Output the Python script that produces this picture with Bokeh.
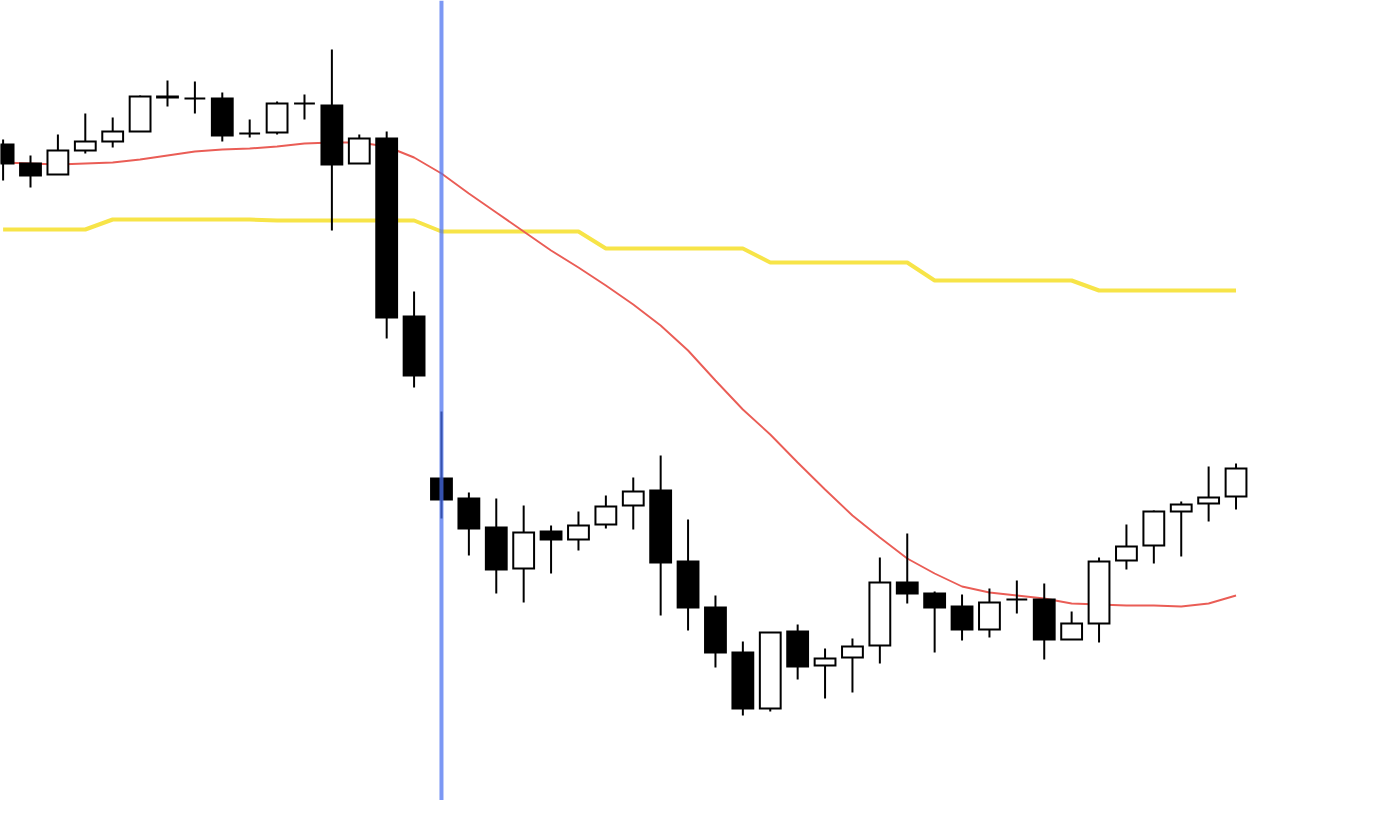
from bokeh.plotting import figure
from bokeh.models import Range1d, Span, ColumnDataSource
from bokeh.embed import file_html
from bokeh.resources import INLINE

# Price values (arbitrary price units)
opens  = [672, 653, 642, 666, 675, 685, 719, 718, 718, 683, 684, 713, 711, 653, 678, 500,
          338, 318, 289, 248, 285, 277, 292, 311, 326, 255, 209, 164, 108, 185, 151, 159,
          171, 234, 223, 210, 187, 217, 217, 177, 193, 256, 271, 305, 313, 320]
highs  = [677, 661, 682, 703, 699, 721, 736, 735, 724, 697, 715, 722, 767, 682, 685, 525,
          405, 324, 318, 311, 291, 305, 321, 339, 361, 297, 221, 175, 184, 192, 168, 178,
          259, 283, 225, 222, 228, 236, 233, 205, 259, 292, 306, 315, 350, 353]
lows   = [636, 629, 642, 663, 669, 685, 710, 703, 675, 679, 682, 697, 586, 653, 478, 429,
          298, 261, 223, 214, 243, 266, 288, 287, 201, 186, 149, 101, 105, 137, 118, 124,
          153, 213, 164, 176, 179, 203, 157, 177, 174, 247, 253, 260, 295, 307]
closes = [653, 641, 666, 675, 685, 720, 720, 718, 681, 683, 713, 713, 652, 678, 499, 441,
          317, 288, 247, 284, 277, 291, 310, 325, 254, 209, 164, 108, 184, 150, 158, 170,
          234, 223, 209, 187, 214, 217, 177, 193, 255, 270, 305, 312, 319, 348]

ma_fast = [654, 653, 652, 653, 654, 657, 661, 665, 667, 668, 670, 673, 674, 674, 670, 659,
           643, 623, 604, 585, 566, 549, 531, 512, 491, 466, 436, 407, 382, 354, 327, 301,
           279, 258, 243, 230, 224, 221, 218, 213, 212, 211, 211, 210, 213, 221]
ma_slow = [587, 587, 587, 587, 597, 597, 597, 597, 597, 597, 596, 596, 596, 596, 596, 596,
           585, 585, 585, 585, 585, 585, 568, 568, 568, 568, 568, 568, 554, 554, 554, 554,
           554, 554, 536, 536, 536, 536, 536, 536, 526, 526, 526, 526, 526, 526]
marker_index = 16

idx = list(range(len(opens)))
tops = [max(o, c) for o, c in zip(opens, closes)]
bots = [min(o, c) for o, c in zip(opens, closes)]
fills = ["black" if c < o else "white" for o, c in zip(opens, closes)]

src = ColumnDataSource(dict(x=idx, o=opens, h=highs, l=lows, c=closes,
                            top=tops, bottom=bots, fill=fills))

p = figure(width=1378, height=800, output_backend="svg", toolbar_location=None,
           x_range=Range1d(-0.095, 50.2), y_range=Range1d(16, 816),
           min_border=0, min_border_left=0, min_border_right=0,
           min_border_top=0, min_border_bottom=0)
p.xaxis.visible = False
p.yaxis.visible = False
p.grid.visible = False
p.outline_line_color = None
p.background_fill_color = "white"
p.border_fill_color = "white"

p.line(idx, ma_slow, line_color="#f7e448", line_width=4)
p.line(idx, ma_fast, line_color="#ea5d56", line_width=1.9)

p.segment(x0="x", y0="h", x1="x", y1="l", source=src, line_color="black", line_width=2)
p.vbar(x="x", top="top", bottom="bottom", width=0.76, source=src,
       fill_color="fill", line_color="black", line_width=2, line_join="miter")

p.add_layout(Span(location=marker_index, dimension="height", line_color="#4a70f0",
                  line_width=4, line_alpha=0.72))

open("out.html", "w").write(file_html(p, INLINE))
